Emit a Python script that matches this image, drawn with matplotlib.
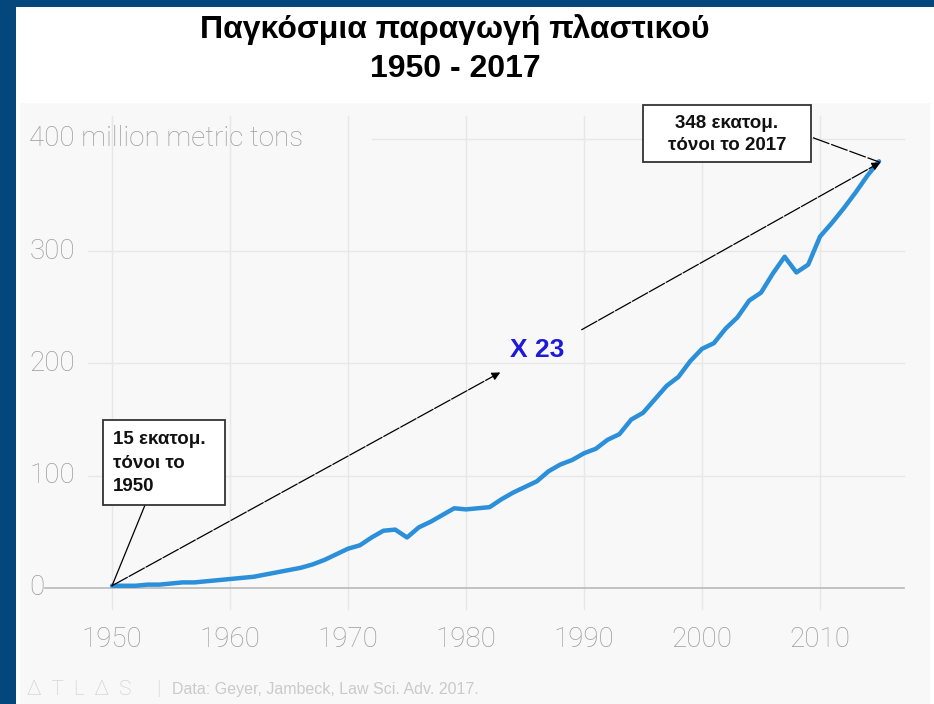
import matplotlib
matplotlib.use("Agg")
import matplotlib.pyplot as plt
from matplotlib.patches import Rectangle

# Global plastic production, million metric tons
years = list(range(1950, 2016))
production = [2, 2, 2, 3, 3, 4, 5, 5, 6, 7,
              8, 9, 10, 12, 14, 16, 18, 21, 25, 30,
              35, 38, 45, 51, 52, 45, 54, 59, 65, 71,
              70, 71, 72, 79, 85, 90, 95, 104, 110, 114,
              120, 124, 132, 137, 150, 156, 168, 180, 188, 202,
              213, 218, 231, 241, 256, 263, 280, 295, 281, 288,
              313, 325, 338, 352, 367, 380]

xticks = [1950, 1960, 1970, 1980, 1990, 2000, 2010]
yticks = [0, 100, 200, 300]

title = "Παγκόσμια παραγωγή πλαστικού\n1950 - 2017"
box_end = "348 εκατομ.\nτόνοι το 2017"
box_start = "15 εκατομ.\nτόνοι το\n1950"
factor = "X 23"
source = "Data: Geyer, Jambeck, Law Sci. Adv. 2017."

navy = "#03477c"
grey_txt = "#9c9c9c"
grid_c = "#e7e7e7"
light_font = ["Roboto", "DejaVu Sans"]

fig = plt.figure(figsize=(9.34, 7.04), dpi=100, facecolor=navy)
# white page
fig.patches.append(Rectangle((16 / 934, 0), 1, 697 / 704, transform=fig.transFigure,
                             facecolor="white", edgecolor="none", zorder=-1))

ax = fig.add_axes([20 / 934, 0, 910 / 934, 601 / 704])
ax.set_zorder(1)
ax.set_facecolor("#f8f8f8")
ax.set_xlim(1942.2, 2019.32)
ax.set_ylim(-103.3, 431.9)
for s in ax.spines.values():
    s.set_visible(False)
ax.set_xticks([])
ax.set_yticks([])

# grid
for x in xticks:
    ax.plot([x, x], [-19, 420], color=grid_c, lw=1, zorder=1)
for y in yticks[1:]:
    ax.plot([1948.0, 2017.1], [y, y], color=grid_c, lw=1, zorder=1)
ax.plot([1972.0, 2017.1], [400, 400], color=grid_c, lw=1, zorder=1)
ax.plot([1944.3, 2017.1], [0, 0], color="#b9b9b9", lw=1.2, zorder=2)

# tick labels
for y in yticks:
    ax.text(1943.0, y, str(y), ha="left", va="center", fontsize=20,
            family=light_font, weight="light", color=grey_txt)
ax.text(1943.0, 400, "400 million metric tons", ha="left", va="center", fontsize=20,
        family=light_font, weight="light", color=grey_txt)
for x in xticks:
    ax.text(x, -46, str(x), ha="center", va="center", fontsize=20,
            family=light_font, weight="light", color=grey_txt)

# footer
ax.text(1942.8, -90, "Δ  T  L  Δ  S", ha="left", va="center", fontsize=15,
        family=light_font, weight="light", color="#cacaca")
ax.text(1953.7, -90, "|", ha="left", va="center", fontsize=15,
        family=light_font, weight="light", color="#cacaca")
ax.text(1955.1, -90, source, ha="left", va="center", fontsize=11.5,
        family="Liberation Sans", color="#cacaca")

# data line
ax.plot(years, production, color="#2b8fd9", lw=3.2, solid_joinstyle="round",
        solid_capstyle="round", zorder=4)

# arrows
dash = (0, (14, 1.5))
ax.annotate("", xy=(1982.9, 192), xytext=(1950, 2),
            arrowprops=dict(arrowstyle="-|>", color="black", lw=0.9, linestyle=dash,
                            shrinkA=0, shrinkB=0, mutation_scale=12), zorder=5)
ax.annotate("", xy=(2015.1, 379), xytext=(1989.8, 230),
            arrowprops=dict(arrowstyle="-|>", color="black", lw=0.9, linestyle=dash,
                            shrinkA=0, shrinkB=0, mutation_scale=12), zorder=5)
ax.plot([2009.4, 2015.1], [401, 379], color="black", lw=0.9, linestyle=dash, zorder=5)
ax.plot([1952.8, 1950.0], [74, 2], color="black", lw=0.9, zorder=5)

# boxes
ax.add_patch(Rectangle((1995.0, 379), 14.2, 51, facecolor="white",
                       edgecolor="#333333", lw=1.3, zorder=6))
ax.text(2002.1, 404, box_end, ha="center", va="center", fontsize=13.5, weight="bold",
        family="Liberation Sans", linespacing=1.4, color="#111111", zorder=7)
ax.add_patch(Rectangle((1949.2, 74), 10.4, 76, facecolor="white",
                       edgecolor="#333333", lw=1.3, zorder=6))
ax.text(1950.1, 111, box_start, ha="left", va="center", fontsize=13.5, weight="bold",
        family="Liberation Sans", linespacing=1.5, color="#111111", zorder=7)

ax.text(1986.0, 212, factor, ha="center", va="center", fontsize=19, weight="bold",
        family="Liberation Sans", color="#1c1cd8", zorder=7)

fig.text(455 / 934, 1 - 49 / 704, title, ha="center", va="center", fontsize=23,
         weight="bold", family="Liberation Sans", linespacing=1.4, color="black")

fig.savefig("out.png", dpi=100, facecolor=navy)
